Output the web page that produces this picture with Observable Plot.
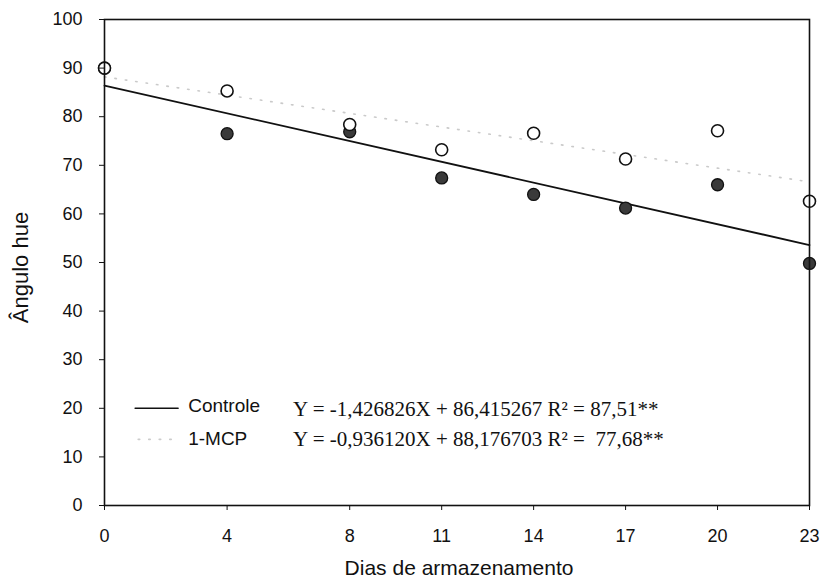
<!DOCTYPE html>
<html>
<head>
<meta charset="utf-8">
<script src="https://cdn.jsdelivr.net/npm/d3@7"></script>
<script src="https://cdn.jsdelivr.net/npm/@observablehq/plot@0.6"></script>
<style>
  html, body { margin: 0; padding: 0; background: #fff; }
  #chart svg { display: block; }
</style>
</head>
<body>
<div id="chart"></div>
<script>
// Days of storage (x) and hue angle values
const days = [0, 4, 8, 11, 14, 17, 20, 23];
const controleValues = [90, 76.5, 76.9, 67.4, 64.0, 61.2, 66.0, 49.8];
const mcpValues = [90, 85.3, 78.4, 73.2, 76.6, 71.3, 77.1, 62.6];

// Fitted line end points (x = 0 and x = 23)
const trendDays = [0, 23];
const controleTrend = [86.4, 53.6];
const mcpTrend = [88.2, 66.6];

// Tick labels
const xTicks = [0, 4, 8, 11, 14, 17, 20, 23];
const yTicks = [0, 10, 20, 30, 40, 50, 60, 70, 80, 90, 100];

// Legend / texts
const xLabel = "Dias de armazenamento";
const yLabel = "Ângulo hue";
const seriesNames = ["Controle", "1-MCP"];
const equations = [
  "Y = -1,426826X + 86,415267 R\u00B2 = 87,51**",
  "Y = -0,936120X + 88,176703 R\u00B2 =  77,68**"
];

const controle = days.map((d, i) => ({x: d, y: controleValues[i]}));
const mcp = days.map((d, i) => ({x: d, y: mcpValues[i]}));
const controleLine = trendDays.map((d, i) => ({x: d, y: controleTrend[i]}));
const mcpLine = trendDays.map((d, i) => ({x: d, y: mcpTrend[i]}));

const sans = "'Liberation Sans', Arial, sans-serif";
const serif = "'Liberation Serif', 'Times New Roman', serif";

const chart = Plot.plot({
  width: 824,
  height: 583,
  marginLeft: 104,
  marginRight: 15,
  marginTop: 19,
  marginBottom: 78,
  style: {fontFamily: sans, fontSize: "18px", background: "#fff", color: "#111"},
  x: {domain: [0, 23]},
  y: {domain: [0, 100]},
  marks: [
    // faint dotted 1-MCP fit
    Plot.line(mcpLine, {x: "x", y: "y", stroke: "#cacaca", strokeWidth: 1.6, strokeDasharray: "1.5 9"}),
    // solid Controle fit
    Plot.line(controleLine, {x: "x", y: "y", stroke: "#111", strokeWidth: 1.8}),
    // Controle points (filled)
    Plot.dot(controle, {x: "x", y: "y", r: 6, fill: "#3a3a3a", stroke: "#111", strokeWidth: 1.3}),
    // 1-MCP points (open)
    Plot.dot(mcp, {x: "x", y: "y", r: 6, fill: "#fff", stroke: "#111", strokeWidth: 1.6}),
    Plot.frame({stroke: "#111", strokeWidth: 1.6}),
    Plot.axisX({ticks: xTicks, tickSize: 5, tickPadding: 19, label: null, fontSize: 18, tickFormat: d => String(d)}),
    Plot.axisY({ticks: yTicks, tickSize: 5, tickPadding: 17, label: null, fontSize: 18, tickFormat: d => String(d)}),
    // legend samples
    Plot.line([{x: 1.0, y: 20}, {x: 2.4, y: 20}], {x: "x", y: "y", stroke: "#111", strokeWidth: 1.6}),
    Plot.line([{x: 1.1, y: 13.6}, {x: 2.4, y: 13.6}], {x: "x", y: "y", stroke: "#cccccc", strokeWidth: 1.6, strokeDasharray: "1.5 9"}),
    // legend labels
    Plot.text([seriesNames[0]], {x: 2.73, y: 20.5, text: d => d, textAnchor: "start", fontSize: 19, fontFamily: sans, fill: "#111"}),
    Plot.text([seriesNames[1]], {x: 2.73, y: 13.6, text: d => d, textAnchor: "start", fontSize: 19, fontFamily: sans, fill: "#111"}),
    // equations
    Plot.text([equations[0]], {x: 6.15, y: 19.8, text: d => d, textAnchor: "start", fontSize: 21, fontFamily: serif, fill: "#111"}),
    Plot.text([equations[1]], {x: 6.15, y: 13.6, text: d => d, textAnchor: "start", fontSize: 21, fontFamily: serif, fill: "#111"}),
    // axis titles
    Plot.text([xLabel], {frameAnchor: "bottom", dy: 63, dx: 2, textAnchor: "middle", lineAnchor: "middle", text: d => d, fontSize: 21, fontFamily: sans, fill: "#111"}),
    Plot.text([yLabel], {frameAnchor: "left", dx: -84, dy: 5, rotate: -90, textAnchor: "middle", lineAnchor: "middle", text: d => d, fontSize: 22, fontFamily: sans, fill: "#111"})
  ]
});

document.getElementById("chart").appendChild(chart);
</script>
</body>
</html>
